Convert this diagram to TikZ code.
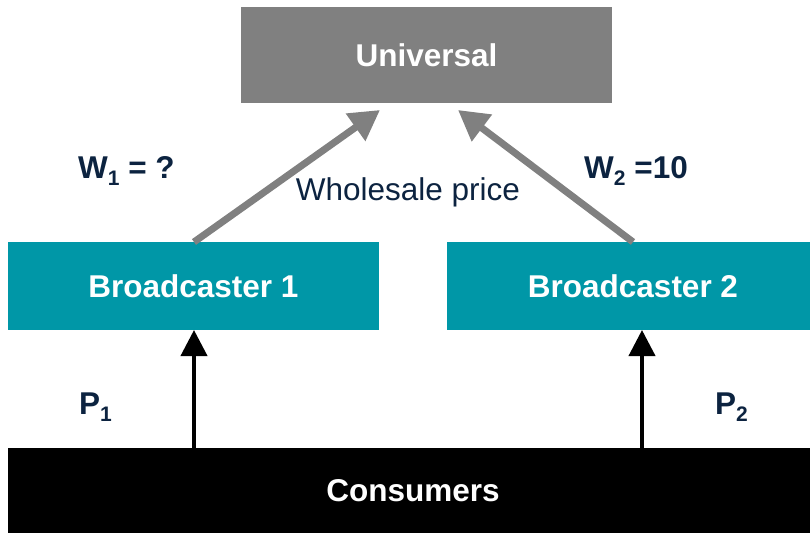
\documentclass[tikz,border=0pt]{standalone}
\usepackage{fontspec}
\setmainfont{Liberation Sans}
\usetikzlibrary{arrows.meta}
\definecolor{boxgray}{RGB}{128,128,128}
\definecolor{teal}{RGB}{0,151,167}
\definecolor{navy}{RGB}{12,35,64}
\newcommand{\lowsub}[1]{\raisebox{-0.45ex}{\fontsize{21}{21}\selectfont #1}}
\tikzset{
  box/.style={draw=none, inner sep=0pt, font=\fontsize{31.5}{34}\selectfont\bfseries, text=white},
  lab/.style={font=\fontsize{31.5}{34}\selectfont\bfseries, text=navy, inner sep=0pt},
  grayarrow/.style={draw=boxgray, line width=7pt, -{Triangle[length=30pt,width=32pt]}},
  blackarrow/.style={draw=black, line width=4pt, -{Triangle[length=26pt,width=26pt]}}
}
\begin{document}
\begin{tikzpicture}[x=1pt,y=-1pt]
\useasboundingbox (0,0) rectangle (810,533);
\node[box, fill=boxgray, minimum width=371pt, minimum height=96pt] (univ) at (426.5,55) {Universal};
\node[box, fill=teal, minimum width=371pt, minimum height=88pt] (b1) at (193.5,286) {Broadcaster 1};
\node[box, fill=teal, minimum width=372pt, minimum height=88pt] (b2) at (633,286) {Broadcaster 2};
\node[box, fill=black, minimum width=810pt, minimum height=85pt] (cons) at (413,490.5) {Consumers};
\coordinate (g1s) at (194,242);
\coordinate (g1e) at (380,110);
\coordinate (g2s) at (633,242);
\coordinate (g2e) at (458,110);
\draw[grayarrow] (g1s) -- (g1e);
\draw[grayarrow] (g2s) -- (g2e);
\coordinate (k1s) at (194,448);
\coordinate (k1e) at (194,330);
\coordinate (k2s) at (642,448);
\coordinate (k2e) at (642,330);
\draw[blackarrow] (k1s) -- (k1e);
\draw[blackarrow] (k2s) -- (k2e);
\node[lab, anchor=base west] (w1) at (78,178) {W\lowsub{1} = ?};
\node[lab, anchor=base west] (w2) at (584,178) {W\lowsub{2} =10};
\node[font=\fontsize{31.5}{34}\selectfont, text=navy, inner sep=0pt, anchor=base] (ws) at (408,200) {Wholesale price};
\node[lab, anchor=base west] (p1) at (79,414) {P\lowsub{1}};
\node[lab, anchor=base west] (p2) at (715,414) {P\lowsub{2}};
\end{tikzpicture}
\end{document}
